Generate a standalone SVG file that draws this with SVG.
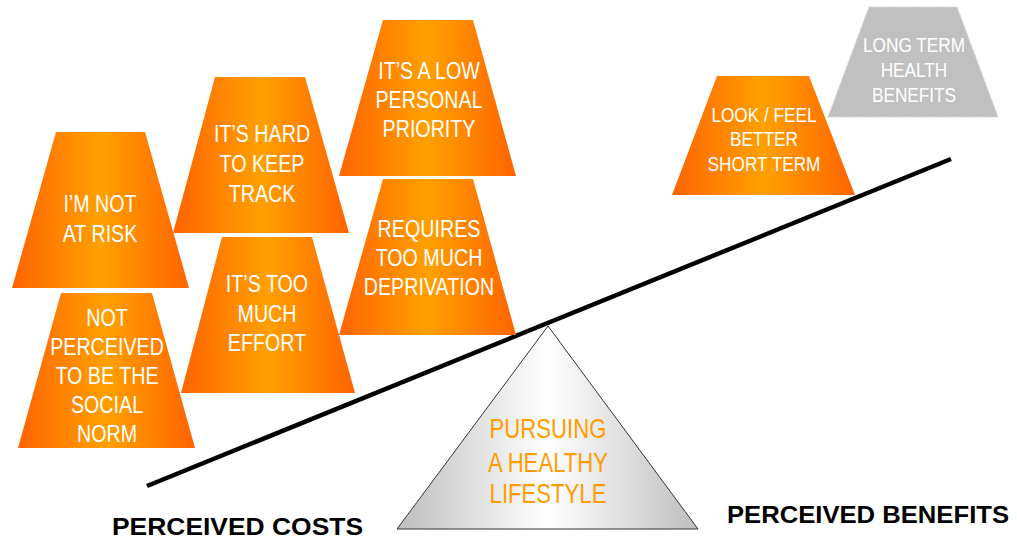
<svg xmlns="http://www.w3.org/2000/svg" width="1017" height="540" viewBox="0 0 1017 540">
  <defs>
    <linearGradient id="orange" x1="0" y1="0" x2="1" y2="0">
      <stop offset="0" stop-color="#FF6400"/>
      <stop offset="0.5" stop-color="#FFA000"/>
      <stop offset="1" stop-color="#FF6400"/>
    </linearGradient>
    <linearGradient id="silver" x1="0" y1="0" x2="1" y2="0">
      <stop offset="0" stop-color="#BEBEBE"/>
      <stop offset="0.5" stop-color="#FFFFFF"/>
      <stop offset="1" stop-color="#BEBEBE"/>
    </linearGradient>
    <style>
      .cone { fill: url(#orange); }
      .grey { fill: #C0C0C0; stroke: #D6D6D6; stroke-width: 1.2; stroke-dasharray: 4 2; }
      .lbl { font-family: "Liberation Sans", Arial, sans-serif; font-size: 24px; fill: #FFFFFF; text-anchor: middle; }
      .sm { font-size: 21px; }
      .fulcrum { fill: url(#silver); stroke: #333333; stroke-width: 1; }
      .mid { font-family: "Liberation Sans", Arial, sans-serif; font-size: 27px; fill: #FF9C00; text-anchor: middle; }
      .axis { font-family: "Liberation Sans", Arial, sans-serif; font-weight: bold; font-size: 24px; fill: #000000; }
      .beam { stroke: #000000; stroke-width: 4.5; stroke-linecap: butt; fill: none; }
    </style>
  </defs>

  <!-- seesaw beam -->
  <g id="connectors">
    <line class="beam" x1="147" y1="486" x2="951" y2="159"/>
  </g>

  <!-- costs side; labels are narrowed horizontally around each cone's centre -->
  <g id="not-at-risk">
    <polygon class="cone" points="56,132 145,132 189,288 12,288"/>
    <text class="lbl" transform="translate(100 0) scale(0.82 1)"><tspan x="0" y="212">I’M NOT</tspan><tspan x="0" y="242">AT RISK</tspan></text>
  </g>
  <g id="social-norm">
    <polygon class="cone" points="61,293 152,293 195,448 18,448"/>
    <text class="lbl" transform="translate(107 0) scale(0.82 1)"><tspan x="0" y="326">NOT</tspan><tspan x="0" y="355">PERCEIVED</tspan><tspan x="0" y="384">TO BE THE</tspan><tspan x="0" y="413">SOCIAL</tspan><tspan x="0" y="442">NORM</tspan></text>
  </g>
  <g id="hard-to-track">
    <polygon class="cone" points="215,77 305,77 349,233 173,233"/>
    <text class="lbl" transform="translate(262 0) scale(0.82 1)"><tspan x="0" y="142">IT’S HARD</tspan><tspan x="0" y="172">TO KEEP</tspan><tspan x="0" y="202">TRACK</tspan></text>
  </g>
  <g id="too-much-effort">
    <polygon class="cone" points="222,237 312,237 355,393 181,393"/>
    <text class="lbl" transform="translate(267 0) scale(0.82 1)"><tspan x="0" y="292">IT’S TOO</tspan><tspan x="0" y="322">MUCH</tspan><tspan x="0" y="351">EFFORT</tspan></text>
  </g>
  <g id="low-priority">
    <polygon class="cone" points="383,20 473,20 516,176 339,176"/>
    <text class="lbl" transform="translate(429 0) scale(0.82 1)"><tspan x="0" y="79">IT’S A LOW</tspan><tspan x="0" y="108">PERSONAL</tspan><tspan x="0" y="137">PRIORITY</tspan></text>
  </g>
  <g id="deprivation">
    <polygon class="cone" points="383,179 473,179 516,335 339,335"/>
    <text class="lbl" transform="translate(429 0) scale(0.82 1)"><tspan x="0" y="237">REQUIRES</tspan><tspan x="0" y="266">TOO MUCH</tspan><tspan x="0" y="295">DEPRIVATION</tspan></text>
  </g>

  <!-- benefits side -->
  <g id="short-term">
    <polygon class="cone" points="717,76 809,76 855,195 672,195"/>
    <text class="lbl sm" transform="translate(764 0) scale(0.82 1)"><tspan x="0" y="122">LOOK / FEEL</tspan><tspan x="0" y="146">BETTER</tspan><tspan x="0" y="171">SHORT TERM</tspan></text>
  </g>
  <g id="long-term">
    <polygon class="grey" points="869,7 957,7 998,117 828,117"/>
    <text class="lbl sm" transform="translate(914 0) scale(0.82 1)"><tspan x="0" y="52">LONG TERM</tspan><tspan x="0" y="77">HEALTH</tspan><tspan x="0" y="102">BENEFITS</tspan></text>
  </g>

  <!-- fulcrum -->
  <g id="fulcrum">
    <polygon class="fulcrum" points="548,326 698,529 397,529"/>
    <text class="mid" transform="translate(548 0) scale(0.82 1)"><tspan x="0" y="438">PURSUING</tspan><tspan x="0" y="472">A HEALTHY</tspan><tspan x="0" y="503">LIFESTYLE</tspan></text>
  </g>

  <!-- side captions -->
  <g id="captions">
    <text class="axis" x="112" y="535" textLength="251" lengthAdjust="spacingAndGlyphs">PERCEIVED COSTS</text>
    <text class="axis" x="727" y="523" textLength="282" lengthAdjust="spacingAndGlyphs">PERCEIVED BENEFITS</text>
  </g>
</svg>
